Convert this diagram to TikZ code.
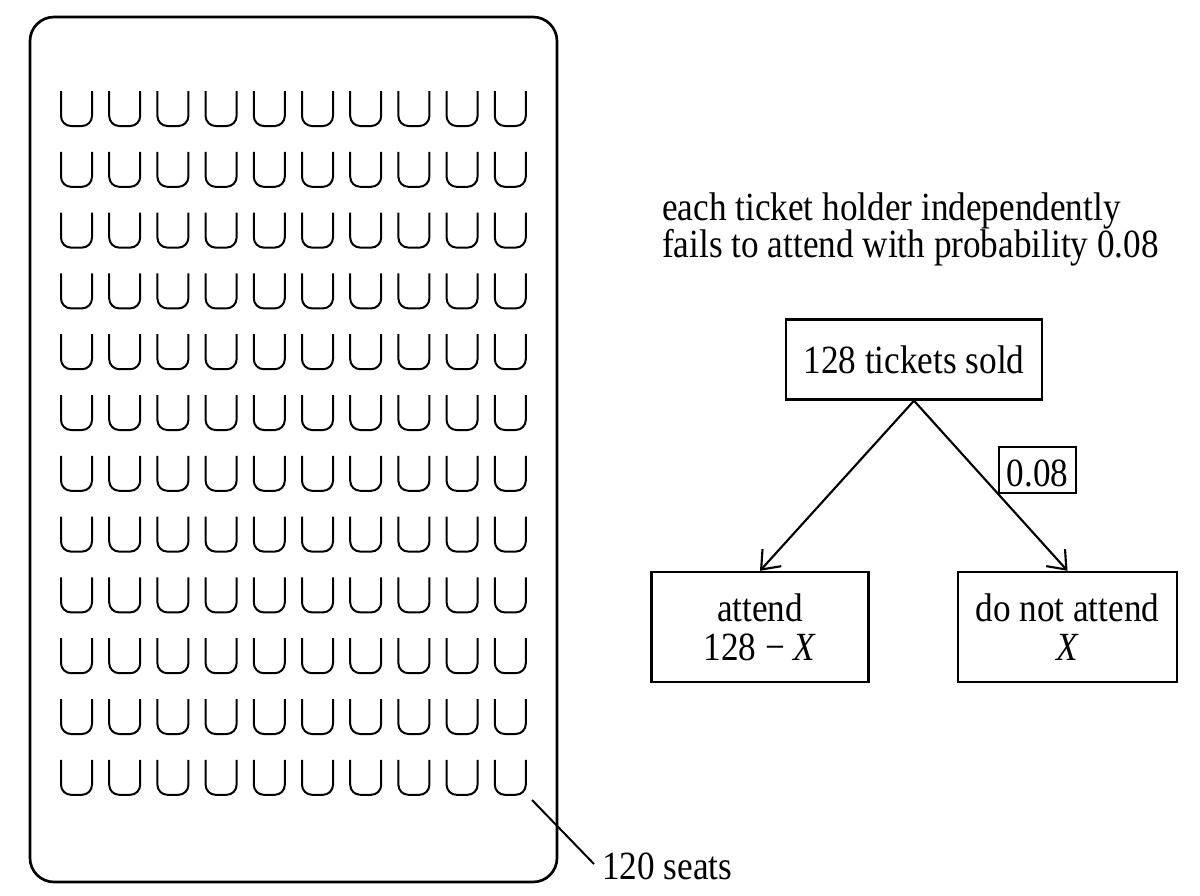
\documentclass[tikz,border=0pt]{standalone}
\usepackage{fontspec}
\setmainfont{Liberation Serif}[FakeStretch=0.88]
\usetikzlibrary{arrows.meta}
\begin{document}
\begin{tikzpicture}[x=0.75pt,y=-0.75pt,
  font=\fontsize{30pt}{29pt}\selectfont,
  box/.style={draw, line width=1.8pt, align=center, inner sep=0pt},
  seat/.style={line width=1.5pt, rounded corners=7.5pt},
  conn/.style={line width=1.6pt, -{Straight Barb[length=12pt,width=19pt]}},
  plabel/.style={draw, line width=1.4pt, inner xsep=5.5pt, inner ysep=5.25pt, text height=24pt, text depth=0pt}]
\useasboundingbox (0,0) rectangle (1200,896);
% hall
\draw[line width=2pt, rounded corners=18pt] (30,17) rectangle (557,882);
\foreach \i in {0,...,9}
  \foreach \j in {0,...,11}
    \draw[seat] ({61+48.2*\i},{91+60.8*\j}) -- ++(0,35) -- ++(31,0) -- ++(0,-35);
\coordinate (ls) at (532,800);
\coordinate (le) at (594,864);
\node[anchor=base west, inner sep=0pt] (seats) at (602,879) {120 seats};
\draw[line width=1.5pt] (ls) -- (le);
% note
\node[anchor=north west, align=left, inner sep=0pt, font=\fontsize{30pt}{28pt}\selectfont] (note) at (662,192)
  {each ticket holder independently\\fails to attend with probability 0.08};
% tree
\node[box, minimum width=192pt, minimum height=60pt] (sold) at (914,359.5) {128 tickets sold};
\node[box, minimum width=163pt, minimum height=82.5pt] (att) at (760,627) {attend\\128 − \textit{X}};
\node[box, minimum width=164pt, minimum height=82.5pt] (noatt) at (1067.5,627) {do not attend\\\textit{X}};
\draw[conn] (sold.south) -- (att.north);
\draw[conn] (sold.south) -- node[plabel, pos=0.55, anchor=south west] (p) {0.08} (noatt.north);
\end{tikzpicture}
\end{document}
